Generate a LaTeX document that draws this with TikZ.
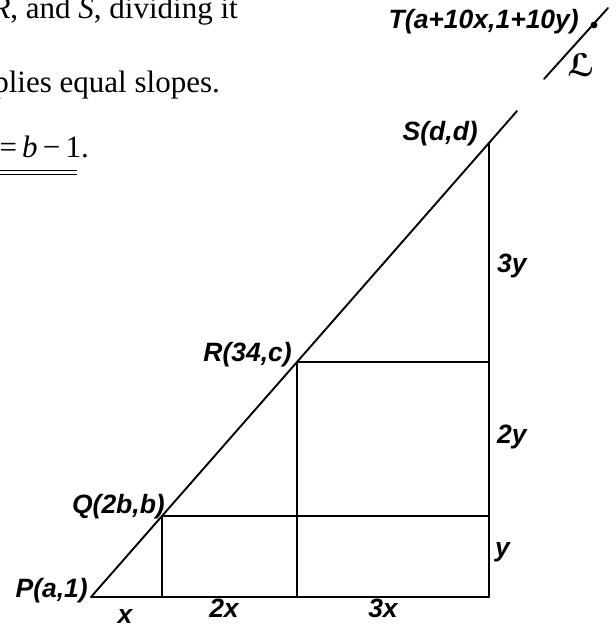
\documentclass[tikz,border=0pt]{standalone}
\usepackage{fontspec}
\setmainfont{Liberation Serif}
\newfontfamily\lblfont{Liberation Sans}
\newfontfamily\calLfont{DejaVu Sans}
\begin{document}
\begin{tikzpicture}[x=1pt,y=-1pt,
  edge/.style={line width=1.9pt, line cap=round},
  lbl/.style={inner sep=0pt, font=\lblfont\bfseries\itshape\fontsize{26.5}{26.5}\selectfont},
  body/.style={inner sep=0pt, font=\fontsize{31}{31}\selectfont}]
\useasboundingbox (0,0) rectangle (616,625);
\clip (0,0) rectangle (616,625);
% points
\coordinate (P) at (91,597);
\coordinate (Q) at (162,516);
\coordinate (R) at (297,362);
\coordinate (S) at (489,143);
\coordinate (E) at (517,111);
\coordinate (B1) at (162,597);
\coordinate (B2) at (297,597);
\coordinate (B3) at (489,597);
\coordinate (Qr) at (489,516);
\coordinate (Rr) at (489,362);
\coordinate (L1) at (544,79);
\coordinate (L2) at (608,8);
\coordinate (T) at (594,25);
% lines
\draw[edge] (P) -- (E);
\draw[edge] (P) -- (B3);
\draw[edge] (B3) -- (S);
\draw[edge] (Q) -- (B1);
\draw[edge] (Q) -- (Qr);
\draw[edge] (R) -- (B2);
\draw[edge] (R) -- (Rr);
\draw[edge] (L1) -- (L2);
\fill (T) circle (3.4pt);
% point labels
\node[lbl, anchor=base east] (lP) at (88,597) {P(a,1)};
\node[lbl, anchor=base east] (lQ) at (165,513) {Q(2b,b)};
\node[lbl, anchor=base east] (lR) at (292,361) {R(34,c)};
\node[lbl, anchor=base east] (lS) at (478,140) {S(d,d)};
\node[lbl, anchor=base east] (lT) at (579,28) {T(a+10x,1+10y)};
\node[inner sep=0pt, font=\calLfont\bfseries\itshape\fontsize{31}{31}\selectfont] (lL) at (581,65) {ℒ};
% segment labels
\node[lbl, anchor=base] (sx1) at (125,623) {x};
\node[lbl, anchor=base] (sx2) at (224,617) {2x};
\node[lbl, anchor=base] (sx3) at (383,617) {3x};
\node[lbl, anchor=base west] (sy1) at (495,556) {y};
\node[lbl, anchor=base west] (sy2) at (497,443) {2y};
\node[lbl, anchor=base west] (sy3) at (497,272) {3y};
% body text (cropped as in the reference)
\node[body, anchor=base east] (t1) at (238,18) {\textit{R}, and \textit{S}, dividing it};
\node[body, anchor=base east] (t2) at (220,92) {plies equal slopes.};
\node[body, anchor=base east] (t3) at (89,157) {=\,\textit{b}\,−\,1.};
\coordinate (u1) at (0,170.7);
\coordinate (u2) at (77,170.7);
\coordinate (u3) at (0,174.2);
\coordinate (u4) at (77,174.2);
\draw[line width=1pt] (u1) -- (u2);
\draw[line width=1pt] (u3) -- (u4);
\end{tikzpicture}
\end{document}
